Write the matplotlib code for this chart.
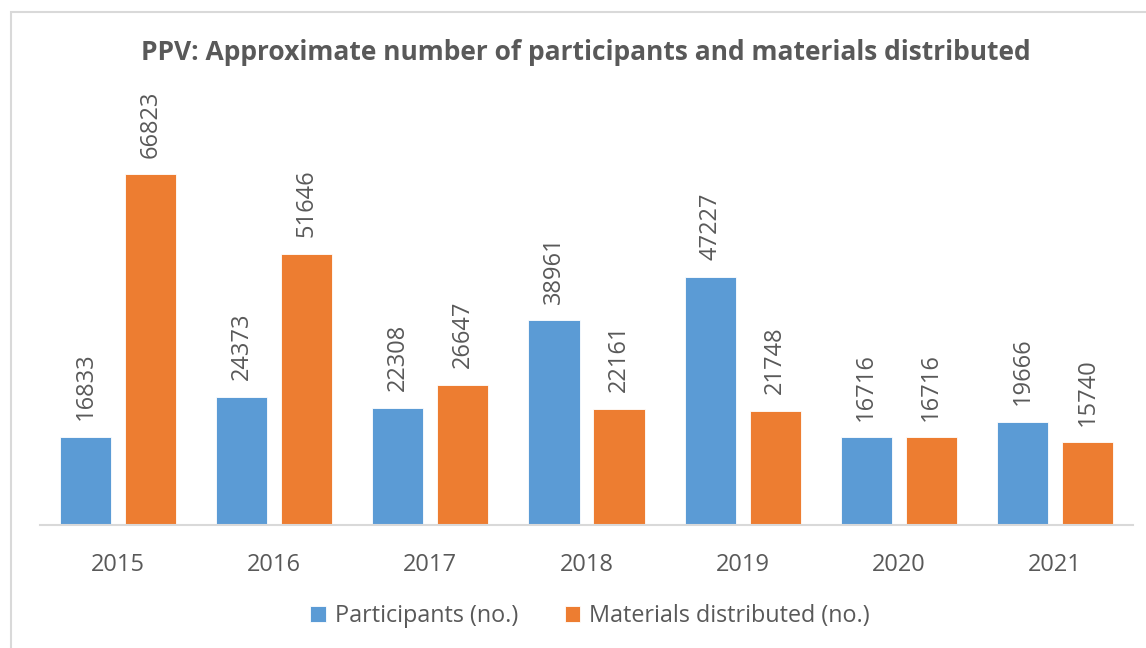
import matplotlib.pyplot as plt
import numpy as np
from matplotlib.patches import Rectangle

# Data
years = ['2015', '2016', '2017', '2018', '2019', '2020', '2021']
participants = [16833, 24373, 22308, 38961, 47227, 16716, 19666]
materials = [66823, 51646, 26647, 22161, 21748, 16716, 15740]

plt.rcParams['font.family'] = ['Open Sans', 'DejaVu Sans']
text_col = '#595959'
blue = '#5B9BD5'
orange = '#ED7D31'

fig = plt.figure(figsize=(11.46, 6.48), dpi=100)

# chart area border (cut off at right/bottom like the screenshot)
fig.patches.append(Rectangle((11 / 1146, -0.05), 1.2, 1 - 12 / 648 + 0.05,
                             transform=fig.transFigure, fill=False,
                             edgecolor='#D9D9D9', linewidth=1.5))

ax = fig.add_axes([40 / 1146, 1 - 525 / 648, 1093 / 1146, 420 / 648])

x = np.arange(len(years))
w = 0.327
off = 0.208
b1 = ax.bar(x - off, participants, w, color=blue, edgecolor='white', linewidth=0.6,
            label='Participants (no.)')
b2 = ax.bar(x + off, materials, w, color=orange, edgecolor='white', linewidth=0.6,
            label='Materials distributed (no.)')

for bars in (b1, b2):
    for rect in bars:
        h = rect.get_height()
        ax.annotate(f'{h:.0f}', (rect.get_x() + rect.get_width() / 2, h),
                    xytext=(0, 12), textcoords='offset points',
                    ha='center', va='bottom', rotation=90,
                    fontsize=17, color=text_col)

ax.set_xlim(-0.5, len(years) - 0.5)
ax.set_ylim(0, 80000)
ax.set_xticks(x)
ax.set_xticklabels(years, fontsize=17, color=text_col)
ax.tick_params(axis='x', length=0, pad=20)
ax.set_yticks([])
for s in ['top', 'right', 'left']:
    ax.spines[s].set_visible(False)
ax.spines['bottom'].set_color('#D9D9D9')
ax.spines['bottom'].set_linewidth(1.5)

fig.text(0.511, 1 - 53 / 648, 'PPV: Approximate number of participants and materials distributed',
         ha='center', va='center', fontsize=19, fontweight='bold', color=text_col)

leg = fig.legend(handles=[b1, b2], loc='center', bbox_to_anchor=(0.515, 1 - 616 / 648),
                 ncol=2, frameon=False, fontsize=16.8, handlelength=0.65, handleheight=0.65,
                 columnspacing=2.0, handletextpad=0.4)
for t in leg.get_texts():
    t.set_color(text_col)

fig.savefig('out.png', dpi=100)
